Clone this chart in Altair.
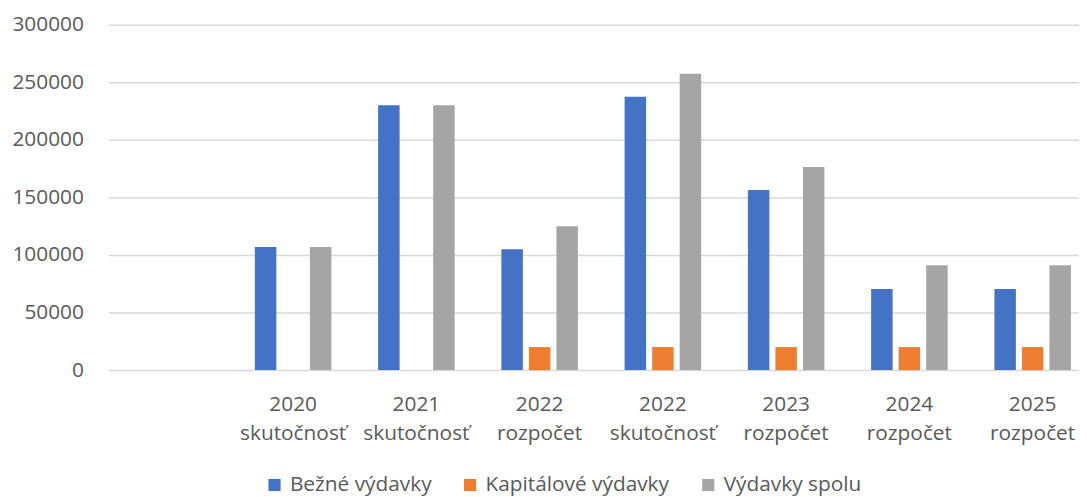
import altair as alt
import pandas as pd

categories = ["2020\nskutočnosť", "2021\nskutočnosť", "2022\nrozpočet", "2022\nskutočnosť",
              "2023\nrozpočet", "2024\nrozpočet", "2025\nrozpočet"]
series = ["Bežné výdavky", "Kapitálové výdavky", "Výdavky spolu"]
bezne = [107000, 230000, 105000, 237500, 156500, 70500, 70500]
kapitalove = [None, None, 20000, 20000, 20000, 20000, 20000]
spolu = [107000, 230000, 125000, 257500, 176500, 91000, 91000]
colors = ["#4472C4", "#ED7D31", "#A5A5A5"]
y_ticks = [0, 50000, 100000, 150000, 200000, 250000, 300000]

rows = []
for i, c in enumerate(categories):
    for s, vals in zip(series, [bezne, kapitalove, spolu]):
        if vals[i] is not None:
            rows.append({"cat": c, "series": s, "value": vals[i]})
df = pd.DataFrame(rows)

domain = [" "] + categories
font = "Open Sans"
gray = "#595959"

chart = alt.Chart(df).mark_bar().encode(
    x=alt.X("cat:N", sort=domain,
            scale=alt.Scale(domain=domain, range=[2, 995.4], paddingInner=0.33, paddingOuter=0.165),
            axis=alt.Axis(title=None, labelAngle=0, domain=False, ticks=False,
                          labelExpr="split(datum.value, '\\n')",
                          labelFontSize=21, labelColor=gray, labelFont=font,
                          labelLineHeight=29, labelPadding=24, labelBaseline="top")),
    xOffset=alt.XOffset("series:N", sort=series,
                        scale=alt.Scale(domain=series, paddingInner=0.22, paddingOuter=0.11)),
    y=alt.Y("value:Q", scale=alt.Scale(domain=[0, 300000], nice=False),
            axis=alt.Axis(title=None, values=y_ticks, domain=False, ticks=False, format="d",
                          labelFontSize=21, labelColor=gray, labelFont=font, labelPadding=23,
                          gridColor="#D9D9D9", gridWidth=1.5)),
    color=alt.Color("series:N", sort=series,
                    scale=alt.Scale(domain=series, range=colors),
                    legend=alt.Legend(title=None, orient="none", direction="horizontal",
                                      legendX=159, legendY=453, labelLimit=400,
                                      symbolType="square", symbolSize=150, symbolStrokeWidth=0,
                                      labelFontSize=21, labelColor=gray, labelFont=font,
                                      labelOffset=5, columnPadding=28)),
).properties(
    width=980, height=348,
    autosize=alt.AutoSizeParams(type="none"),
    padding={"left": 99, "top": 15, "right": 0, "bottom": 126},
).configure_view(stroke=None)

chart.save("out.html", embed_options={"renderer": "svg", "actions": False})
